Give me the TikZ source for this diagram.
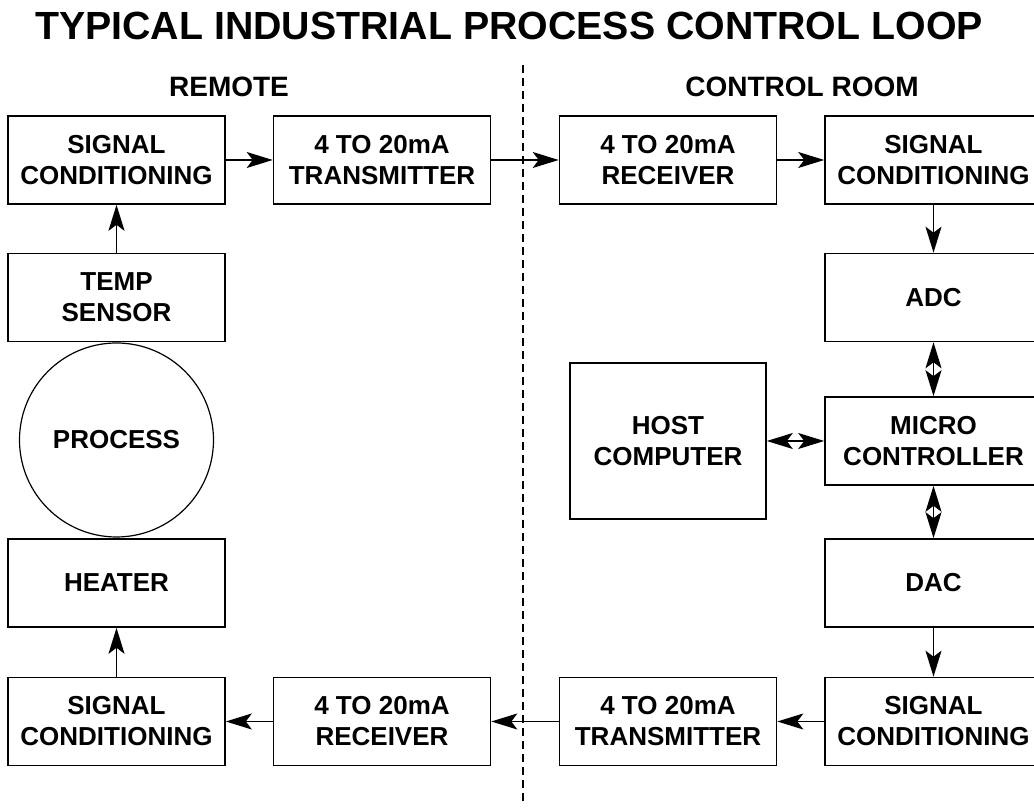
\documentclass[tikz,border=0pt]{standalone}
\usepackage{fontspec}
\setmainfont{Liberation Sans}
\usetikzlibrary{arrows.meta}
\tikzset{
    blk/.style={draw, line width=1.6pt, minimum width=217pt, minimum height=88pt,
        inner sep=2pt, align=center, font=\fontsize{26}{31}\selectfont\bfseries},
    sig/.style={line width=1.4pt, ->},
    dsig/.style={line width=1.4pt, <->},
    >={Stealth[length=26pt, width=16pt, inset=6pt]}
}
\begin{document}
\begin{tikzpicture}[x=1pt, y=1pt]
    \useasboundingbox (0,0) rectangle (1034,810);
    \node[anchor=base, font=\fontsize{39.3}{42}\selectfont\bfseries] (title) at (509, 770) {TYPICAL INDUSTRIAL PROCESS CONTROL LOOP};
    \node[anchor=base, font=\fontsize{28}{30}\selectfont\bfseries] (remote) at (229, 713) {REMOTE};
    \node[anchor=base, font=\fontsize{28}{30}\selectfont\bfseries] (croom) at (802, 713) {CONTROL ROOM};
    \coordinate (divtop) at (523, 745);
    \coordinate (divbot) at (523, 7);
    \draw[line width=1.6pt, dash pattern=on 8pt off 5pt] (divtop) -- (divbot);
    \node[blk] (sc1) at (116.5, 650) {SIGNAL\\CONDITIONING};
    \node[blk] (tx1) at (382, 650) {4 TO 20mA\\TRANSMITTER};
    \node[blk] (rx1) at (668, 650) {4 TO 20mA\\RECEIVER};
    \node[blk] (sc2) at (933.5, 650) {SIGNAL\\CONDITIONING};
    \node[blk] (temp) at (116.5, 512.5) {TEMP\\SENSOR};
    \node[blk] (adc) at (933.5, 512.5) {ADC};
    \node[draw, circle, line width=1.2pt, minimum size=194pt, font=\fontsize{26}{31}\selectfont\bfseries] (proc) at (116.5, 370) {PROCESS};
    \node[blk, minimum width=196pt, minimum height=156pt] (host) at (668, 369) {HOST\\COMPUTER};
    \node[blk] (micro) at (933.5, 369) {MICRO\\CONTROLLER};
    \node[blk] (heater) at (116.5, 227) {HEATER};
    \node[blk] (dac) at (933.5, 227) {DAC};
    \node[blk] (sc3) at (116.5, 88.5) {SIGNAL\\CONDITIONING};
    \node[blk] (rx2) at (382, 88.5) {4 TO 20mA\\RECEIVER};
    \node[blk] (tx2) at (668, 88.5) {4 TO 20mA\\TRANSMITTER};
    \node[blk] (sc4) at (933.5, 88.5) {SIGNAL\\CONDITIONING};
    \draw[sig] (temp) -- (sc1);
    \draw[sig] (sc1) -- (tx1);
    \draw[sig] (tx1) -- (rx1);
    \draw[sig] (rx1) -- (sc2);
    \draw[sig] (sc2) -- (adc);
    \draw[dsig] (adc) -- (micro);
    \draw[dsig] (host) -- (micro);
    \draw[dsig] (micro) -- (dac);
    \draw[sig] (dac) -- (sc4);
    \draw[sig] (sc4) -- (tx2);
    \draw[sig] (tx2) -- (rx2);
    \draw[sig] (rx2) -- (sc3);
    \draw[sig] (sc3) -- (heater);
\end{tikzpicture}
\end{document}
